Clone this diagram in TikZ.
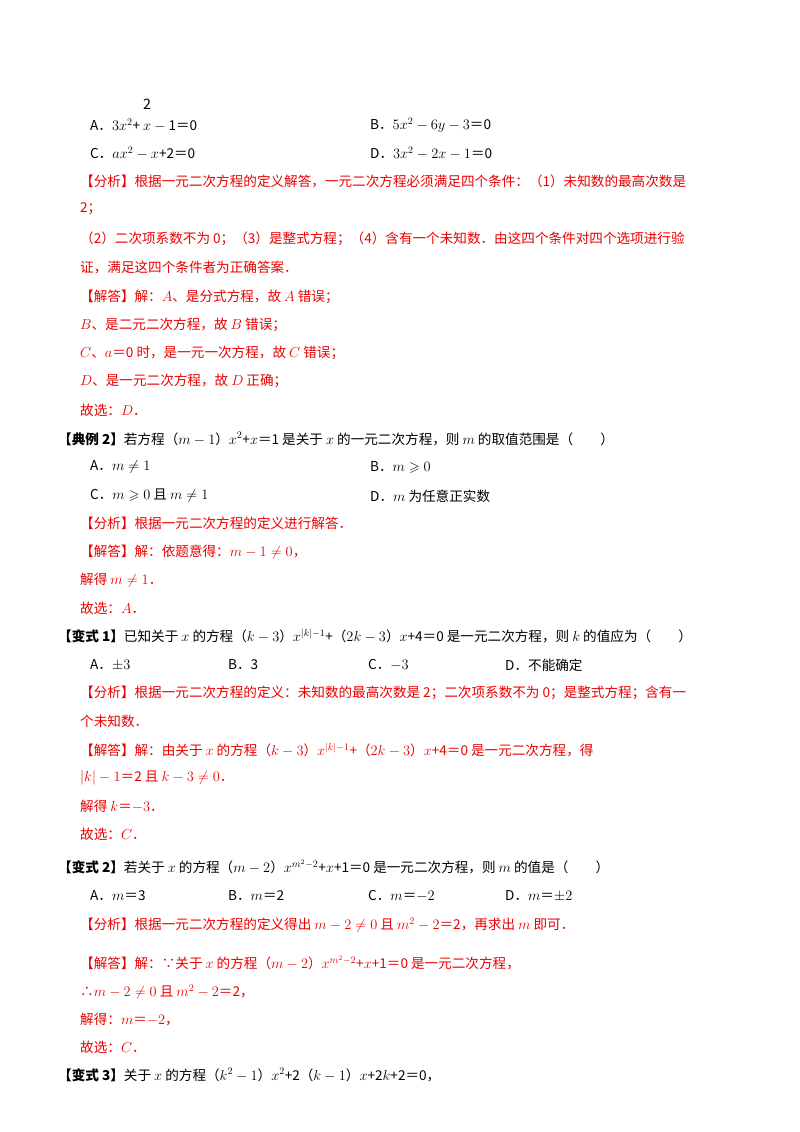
\documentclass[tikz,border=0pt]{standalone}
\usepackage{amsmath,amssymb}
\usepackage{fontspec}
\setmainfont{Noto Sans CJK SC}
\definecolor{ansred}{RGB}{235,0,0}
\begin{document}
\begin{tikzpicture}[x=1pt,y=-1pt,
    every node/.style={anchor=west, inner sep=0pt, font=\fontsize{13.6}{16}\selectfont},
    ans/.style={text=ansred}]
  \useasboundingbox[fill=white] (0,0) rectangle (800,1132);

  % first problem, options
  \node (frac) at (143,104) {\Large 2};
  \node (q1A) at (90,125) {A．$3x^2$+ $x$ $-$ 1＝0};
  \node (q1B) at (370,125) {B．$5x^2-6y-3$＝0};
  \node (q1C) at (90,153) {C．$ax^2-x$+2＝0};
  \node (q1D) at (370,153) {D．$3x^2-2x-1$＝0};

  % analysis
  \node[ans] (a1) at (80,181) {【分析】根据一元二次方程的定义解答，一元二次方程必须满足四个条件：（1）未知数的最高次数是};
  \node[ans] (a2) at (80,209) {2；};
  \node[ans] (a3) at (80,239) {（2）二次项系数不为 0；（3）是整式方程；（4）含有一个未知数．由这四个条件对四个选项进行验};
  \node[ans] (a4) at (80,267) {证，满足这四个条件者为正确答案．};
  \node[ans] (a5) at (80,297) {【解答】解：$A$、是分式方程，故 $A$ 错误；};
  \node[ans] (a6) at (80,325) {$B$、是二元二次方程，故 $B$ 错误；};
  \node[ans] (a7) at (80,353) {$C$、$a$＝0 时，是一元一次方程，故 $C$ 错误；};
  \node[ans] (a8) at (80,381) {$D$、是一元二次方程，故 $D$ 正确；};
  \node[ans] (a9) at (80,410) {故选：$D$．};

  % example 2
  \node (e2) at (58,439) {\textbf{【典例 2】}若方程（$m-1$）$x^2$+$x$＝1 是关于 $x$ 的一元二次方程，则 $m$ 的取值范围是（\quad\quad）};
  \node (e2A) at (90,467) {A．$m\neq1$};
  \node (e2B) at (370,467) {B．$m\geqslant0$};
  \node (e2C) at (90,496) {C．$m\geqslant0$ 且 $m\neq1$};
  \node (e2D) at (370,496) {D．$m$ 为任意正实数};
  \node[ans] (b1) at (80,523) {【分析】根据一元二次方程的定义进行解答．};
  \node[ans] (b2) at (80,552) {【解答】解：依题意得：$m-1\neq0$，};
  \node[ans] (b3) at (80,580) {解得 $m\neq1$．};
  \node[ans] (b4) at (80,608) {故选：$A$．};

  % variant 1
  \node (v1) at (58,636) {\textbf{【变式 1】}已知关于 $x$ 的方程（$k-3$）$x^{|k|-1}$+（$2k-3$）$x$+4＝0 是一元二次方程，则 $k$ 的值应为（\quad\quad）};
  \node (v1A) at (90,665) {A．$\pm3$};
  \node (v1B) at (228,665) {B．3};
  \node (v1C) at (368,665) {C．$-3$};
  \node (v1D) at (505,665) {D．不能确定};
  \node[ans] (c1) at (80,693) {【分析】根据一元二次方程的定义：未知数的最高次数是 2；二次项系数不为 0；是整式方程；含有一};
  \node[ans] (c2) at (80,721) {个未知数．};
  \node[ans] (c3) at (80,750) {【解答】解：由关于 $x$ 的方程（$k-3$）$x^{|k|-1}$+（$2k-3$）$x$+4＝0 是一元二次方程，得};
  \node[ans] (c4) at (80,778) {$|k|-1$＝2 且 $k-3\neq0$．};
  \node[ans] (c5) at (80,806) {解得 $k$＝$-3$．};
  \node[ans] (c6) at (80,834) {故选：$C$．};

  % variant 2
  \node (v2) at (58,867) {\textbf{【变式 2】}若关于 $x$ 的方程（$m-2$）$x^{m^2-2}$+$x$+1＝0 是一元二次方程，则 $m$ 的值是（\quad\quad）};
  \node (v2A) at (90,896) {A．$m$＝3};
  \node (v2B) at (228,896) {B．$m$＝2};
  \node (v2C) at (368,896) {C．$m$＝$-2$};
  \node (v2D) at (505,896) {D．$m$＝$\pm2$};
  \node[ans] (d1) at (80,925) {【分析】根据一元二次方程的定义得出 $m-2\neq0$ 且 $m^2-2$＝2，再求出 $m$ 即可．};
  \node[ans] (d2) at (80,963) {【解答】解：∵关于 $x$ 的方程（$m-2$）$x^{m^2-2}$+$x$+1＝0 是一元二次方程，};
  \node[ans] (d3) at (80,992) {∴$m-2\neq0$ 且 $m^2-2$＝2，};
  \node[ans] (d4) at (80,1019) {解得：$m$＝$-2$，};
  \node[ans] (d5) at (80,1047) {故选：$C$．};

  % variant 3
  \node (v3) at (58,1075) {\textbf{【变式 3】}关于 $x$ 的方程（$k^2-1$）$x^2$+2（$k-1$）$x$+2$k$+2＝0，};
\end{tikzpicture}
\end{document}
